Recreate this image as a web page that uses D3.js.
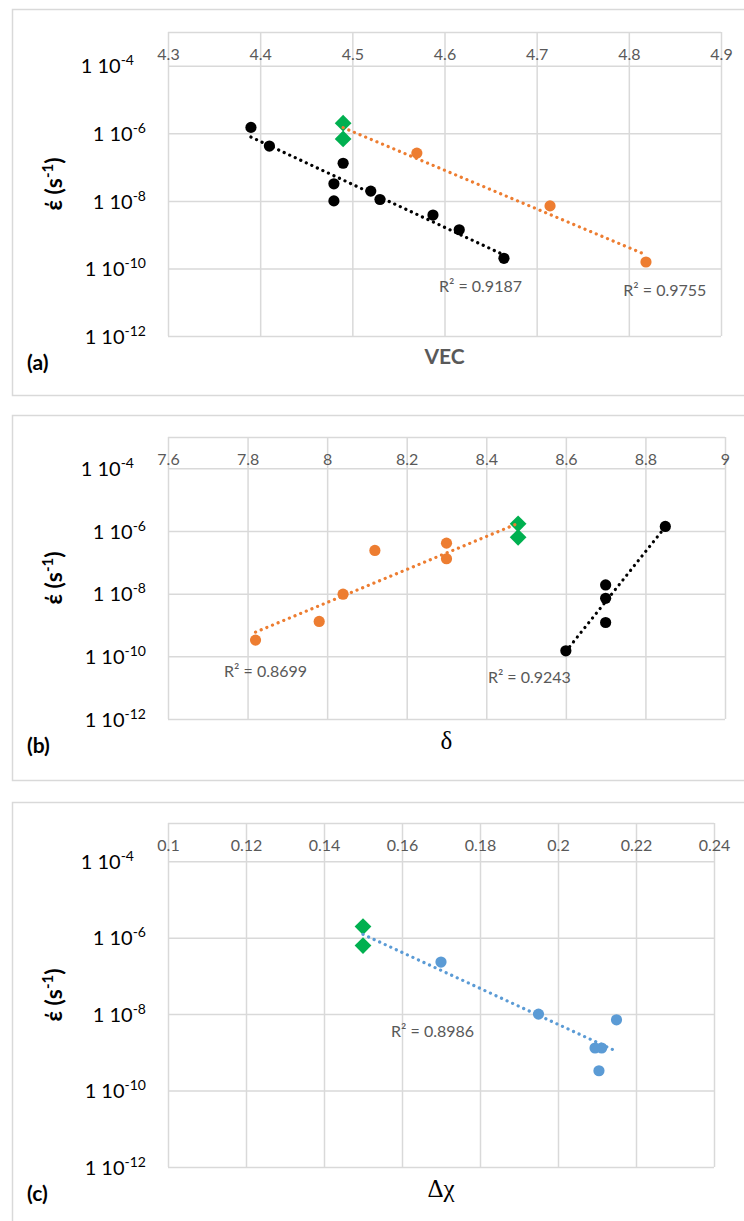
<!DOCTYPE html>
<html>
<head>
<meta charset="utf-8">
<script src="https://cdn.jsdelivr.net/npm/d3@7"></script>
<style>
body { margin: 0; background: #fff; }
svg { display: block; font-family: Lato, "Open Sans", sans-serif; }
</style>
</head>
<body>
<svg id="chart" width="744" height="1221"></svg>
<script>
(() => {

// ---- data ----
// shared y axis (strain rate, log scale)
const y_grid_values = [1e-12, 1e-10, 1e-8, 1e-6, 1e-4, 1e-3];
const y_label_values = [1e-12, 1e-10, 1e-8, 1e-6, 1e-4];
const y_label_powers = ['-12', '-10', '-8', '-6', '-4'];
// the top label sits a little further left in the original
const y_label_shift = [0, 0, 0, 0, -12];

// (a) VEC
const vec_ticks = [4.3, 4.4, 4.5, 4.6, 4.7, 4.8, 4.9];
const vec_tick_labels = ['4.3', '4.4', '4.5', '4.6', '4.7', '4.8', '4.9'];
const vec_black_x = [4.39, 4.41, 4.49, 4.48, 4.48, 4.52, 4.53, 4.5875, 4.616, 4.6645];
const vec_black_y = [1.5e-6, 4.2e-7, 1.3e-7, 3.2e-8, 1.0e-8, 1.95e-8, 1.1e-8, 3.8e-9, 1.4e-9, 2.0e-10];
const vec_orange_x = [4.57, 4.7145, 4.8186];
const vec_orange_y = [2.6e-7, 7.1e-9, 1.55e-10];
const vec_green_x = [4.49, 4.49];
const vec_green_y = [2.0e-6, 6.8e-7];

// (b) delta
const delta_ticks = [7.6, 7.8, 8.0, 8.2, 8.4, 8.6, 8.8, 9.0];
const delta_tick_labels = ['7.6', '7.8', '8', '8.2', '8.4', '8.6', '8.8', '9'];
const delta_orange_x = [7.82, 7.98, 8.04, 8.12, 8.30, 8.30];
const delta_orange_y = [3.3e-10, 1.3e-9, 9.6e-9, 2.4e-7, 4.1e-7, 1.3e-7];
const delta_green_x = [8.48, 8.48];
const delta_green_y = [1.7e-6, 6.3e-7];
const delta_black_x = [8.85, 8.70, 8.70, 8.70, 8.60];
const delta_black_y = [1.4e-6, 1.9e-8, 7.1e-9, 1.2e-9, 1.5e-10];

// (c) delta chi
const chi_ticks = [0.10, 0.12, 0.14, 0.16, 0.18, 0.20, 0.22, 0.24];
const chi_tick_labels = ['0.1', '0.12', '0.14', '0.16', '0.18', '0.2', '0.22', '0.24'];
const chi_blue_x = [0.17, 0.195, 0.215, 0.2095, 0.2112, 0.2105];
const chi_blue_y = [2.3e-7, 1.0e-8, 7.1e-9, 1.3e-9, 1.3e-9, 3.3e-10];
const chi_green_x = [0.15, 0.15];
const chi_green_y = [1.95e-6, 6.2e-7];

const black = '#000000';
const orange = '#ED7D31';
const green = '#00B050';
const blue = '#5B9BD5';
const grid_color = '#d9d9d9';
const text_gray = '#595959';

let svg = d3.select('#chart');

// exponential trendline (least squares on log10 y), spanning the series x range
function fit_line(xs, ys) {
    let ly = ys.map(v => Math.log10(v));
    let mx = d3.mean(xs), my = d3.mean(ly);
    let sxy = d3.sum(xs, (v, i) => (v - mx) * (ly[i] - my));
    let sxx = d3.sum(xs, v => (v - mx) * (v - mx));
    let slope = sxy / sxx;
    let [x0, x1] = d3.extent(xs);
    return [x0, x1].map(v => [v, Math.pow(10, my + slope * (v - mx))]);
}

function draw_panel(p) {
    let g = svg.append('g');

    // outer chart frame
    g.append('rect')
        .attr('x', 12.5)
        .attr('y', p.frame_top + 0.5)
        .attr('width', 780)
        .attr('height', p.frame_bottom - p.frame_top)
        .attr('fill', 'none')
        .attr('stroke', grid_color)
        .attr('stroke-width', 1.5);

    let x = d3.scaleLinear().domain([p.ticks[0], p.ticks[p.ticks.length - 1]]).range([p.left, p.right]);
    let y = d3.scaleLog().domain([1e-12, 1e-3]).range([p.bottom, p.top]);

    // vertical grid
    let xg = g.append('g')
        .attr('transform', `translate(0, ${p.bottom})`)
        .call(d3.axisBottom(x).tickValues(p.ticks).tickSize(-(p.bottom - p.top)).tickFormat(''));
    xg.select('.domain').remove();
    xg.selectAll('line').attr('stroke', grid_color).attr('stroke-width', 1.5);

    // horizontal grid
    let yg = g.append('g')
        .attr('transform', `translate(${p.left}, 0)`)
        .call(d3.axisLeft(y).tickValues(y_grid_values).tickSize(-(p.right - p.left)).tickFormat(''));
    yg.select('.domain').remove();
    yg.selectAll('line').attr('stroke', grid_color).attr('stroke-width', 1.5);

    // x tick labels sit just under the top edge
    let xl = g.append('g')
        .attr('transform', `translate(0, ${p.top})`)
        .call(d3.axisBottom(x).tickValues(p.ticks).tickSize(0).tickPadding(17)
            .tickFormat((d, i) => p.tick_labels[i]));
    xl.select('.domain').remove();
    xl.selectAll('text')
        .attr('fill', text_gray)
        .style('font-size', '16px')
        .style('font-family', 'Lato, sans-serif');

    // y tick labels: "1 10^n"
    let yl = g.append('g')
        .attr('transform', `translate(${p.left}, 0)`)
        .call(d3.axisLeft(y).tickValues(y_label_values).tickSize(0).tickPadding(p.left - 146));
    yl.select('.domain').remove();
    yl.selectAll('text').each(function(d, i) {
        let t = d3.select(this).text(null)
            .attr('fill', black)
            .attr('dx', y_label_shift[i])
            .attr('dy', '0.36em')
            .style('font-size', '20px')
            .style('font-family', 'Lato, sans-serif');
        t.append('tspan').text('1 10');
        t.append('tspan').attr('dy', -8).style('font-size', '14px').text(y_label_powers[i]);
    });

    // y axis title
    let yt = g.append('text')
        .attr('transform', `translate(62, ${(p.top + p.bottom) / 2}) rotate(-90)`)
        .attr('text-anchor', 'middle')
        .style('font-size', '23px')
        .style('font-weight', 'bold')
        .attr('fill', black);
    yt.append('tspan').text('έ (s');
    yt.append('tspan').attr('dy', -9).style('font-size', '15px').text('-1');
    yt.append('tspan').attr('dy', 9).text(')');

    // x axis title
    g.append('text')
        .attr('x', (p.left + p.right) / 2)
        .attr('y', p.bottom + 21)
        .attr('dy', '0.35em')
        .attr('text-anchor', 'middle')
        .attr('fill', p.title_color)
        .style('font-family', p.title_font)
        .style('font-weight', p.title_weight)
        .style('font-size', p.title_size)
        .text(p.title);

    // panel letter
    g.append('text')
        .attr('x', 27)
        .attr('y', p.bottom + 27)
        .attr('dy', '0.35em')
        .attr('fill', black)
        .style('font-size', '21px')
        .style('font-weight', 'bold')
        .text(p.letter);

    // markers
    for (const s of p.series) {
        let pts = s.x.map((v, i) => [v, s.y[i]]);
        if (s.shape == 'diamond') {
            g.append('g').selectAll('path')
                .data(pts)
                .enter()
                .append('path')
                .attr('d', d3.symbol(d3.symbolSquare, 140))
                .attr('transform', d => `translate(${x(d[0])}, ${y(d[1])}) rotate(45)`)
                .attr('fill', s.color);
        } else {
            g.append('g').selectAll('circle')
                .data(pts)
                .enter()
                .append('circle')
                .attr('cx', d => x(d[0]))
                .attr('cy', d => y(d[1]))
                .attr('r', 5.6)
                .attr('fill', s.color);
        }
    }

    // dotted trendlines
    let line = d3.line().x(d => x(d[0])).y(d => y(d[1]));
    for (const t of p.trends) {
        g.append('path')
            .attr('d', line(fit_line(t.x, t.y)))
            .attr('fill', 'none')
            .attr('stroke', t.color)
            .attr('stroke-width', 3.2)
            .attr('stroke-linecap', 'round')
            .attr('stroke-dasharray', '0.1 6');
    }

    // R squared labels
    for (const r of p.r2) {
        g.append('text')
            .attr('x', x(r.at[0]))
            .attr('y', y(r.at[1]))
            .attr('dy', '0.35em')
            .attr('fill', text_gray)
            .style('font-size', '16px')
            .text('R² = ' + r.text);
    }
}

draw_panel({
    frame_top: 9, frame_bottom: 395,
    left: 168, right: 721, top: 32, bottom: 336,
    ticks: vec_ticks, tick_labels: vec_tick_labels,
    title: 'VEC', title_color: text_gray, title_font: 'Lato, sans-serif', title_weight: 'bold', title_size: '21px',
    letter: '(a)',
    series: [
        {x: vec_black_x, y: vec_black_y, color: black, shape: 'circle'},
        {x: vec_orange_x, y: vec_orange_y, color: orange, shape: 'circle'},
        {x: vec_green_x, y: vec_green_y, color: green, shape: 'diamond'}
    ],
    trends: [
        {x: vec_black_x, y: vec_black_y, color: black},
        {x: vec_green_x.concat(vec_orange_x), y: vec_green_y.concat(vec_orange_y), color: orange}
    ],
    r2: [
        {text: '0.9187', at: [4.594, 3.0e-11]},
        {text: '0.9755', at: [4.794, 2.3e-11]}
    ]
});

draw_panel({
    frame_top: 415, frame_bottom: 780,
    left: 168, right: 725, top: 437, bottom: 719,
    ticks: delta_ticks, tick_labels: delta_tick_labels,
    title: 'δ', title_color: black, title_font: '"Liberation Serif", serif', title_weight: 'normal', title_size: '25px',
    letter: '(b)',
    series: [
        {x: delta_orange_x, y: delta_orange_y, color: orange, shape: 'circle'},
        {x: delta_black_x, y: delta_black_y, color: black, shape: 'circle'},
        {x: delta_green_x, y: delta_green_y, color: green, shape: 'diamond'}
    ],
    trends: [
        {x: delta_orange_x.concat(delta_green_x), y: delta_orange_y.concat(delta_green_y), color: orange},
        {x: delta_black_x, y: delta_black_y, color: black}
    ],
    r2: [
        {text: '0.8699', at: [7.741, 3.2e-11]},
        {text: '0.9243', at: [8.404, 2.2e-11]}
    ]
});

draw_panel({
    frame_top: 802, frame_bottom: 1260,
    left: 168, right: 714, top: 823, bottom: 1167,
    ticks: chi_ticks, tick_labels: chi_tick_labels,
    title: 'Δχ', title_color: black, title_font: '"Liberation Serif", serif', title_weight: 'normal', title_size: '25px',
    letter: '(c)',
    series: [
        {x: chi_blue_x, y: chi_blue_y, color: blue, shape: 'circle'},
        {x: chi_green_x, y: chi_green_y, color: green, shape: 'diamond'}
    ],
    trends: [
        {x: chi_green_x.concat(chi_blue_x), y: chi_green_y.concat(chi_blue_y), color: blue}
    ],
    r2: [
        {text: '0.8986', at: [0.1572, 3.6e-9]}
    ]
});

})();
</script>
</body>
</html>
